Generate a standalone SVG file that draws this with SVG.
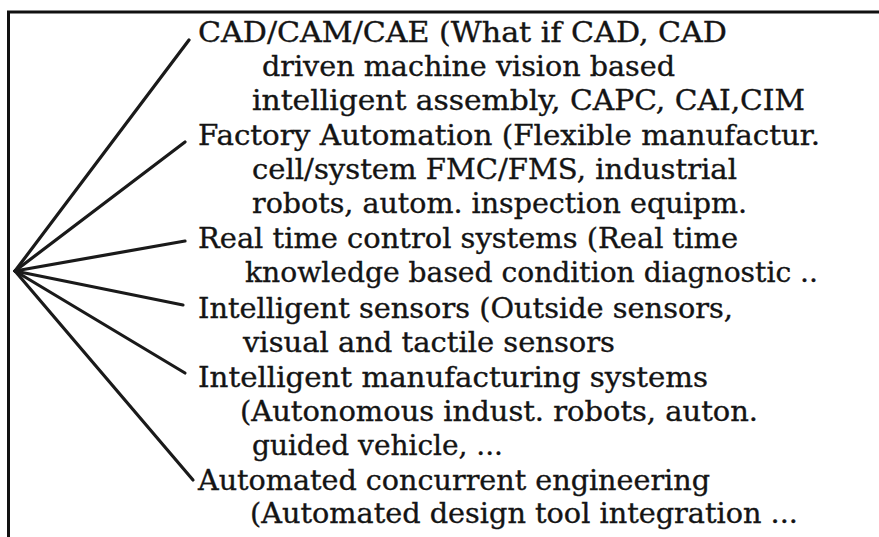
<svg xmlns="http://www.w3.org/2000/svg" width="879" height="537" viewBox="0 0 879 537">
  <style>
    .frame { stroke: #111; stroke-width: 3; fill: none; }
    .branch { stroke: #1a1a1a; stroke-width: 3.2; stroke-linecap: round; fill: none; }
    .label { font-family: "DejaVu Serif", "Liberation Serif", serif; font-size: 28px; fill: #141414; stroke: #141414; stroke-width: 0.35; }
  </style>
  <rect width="879" height="537" fill="#ffffff"/>

  <!-- open frame: top edge and left edge -->
  <g id="frame">
    <line class="frame" x1="7" y1="12" x2="879" y2="12"/>
    <line class="frame" x1="8.5" y1="11" x2="8.5" y2="537"/>
  </g>

  <!-- fan of branches from the common root -->
  <g id="connectors">
    <line class="branch" x1="15" y1="271" x2="189" y2="40"/>
    <line class="branch" x1="15" y1="271" x2="185" y2="142"/>
    <line class="branch" x1="15" y1="271" x2="185" y2="241"/>
    <line class="branch" x1="15" y1="271" x2="183" y2="305"/>
    <line class="branch" x1="15" y1="271" x2="185" y2="373"/>
    <line class="branch" x1="15" y1="271" x2="193" y2="480"/>
  </g>

  <g id="cad-cam-cae">
    <text class="label" x="198" y="42" textLength="529" lengthAdjust="spacingAndGlyphs">CAD/CAM/CAE (What if CAD, CAD</text>
    <text class="label" x="262" y="76" textLength="413" lengthAdjust="spacingAndGlyphs">driven machine vision based</text>
    <text class="label" x="252" y="110" textLength="553" lengthAdjust="spacingAndGlyphs">intelligent assembly, CAPC, CAI,CIM</text>
  </g>

  <g id="factory-automation">
    <text class="label" x="198" y="145" textLength="622" lengthAdjust="spacingAndGlyphs">Factory Automation (Flexible manufactur.</text>
    <text class="label" x="252" y="179" textLength="485" lengthAdjust="spacingAndGlyphs">cell/system FMC/FMS, industrial</text>
    <text class="label" x="252" y="213" textLength="495" lengthAdjust="spacingAndGlyphs">robots, autom. inspection equipm.</text>
  </g>

  <g id="real-time-control">
    <text class="label" x="198" y="248" textLength="540" lengthAdjust="spacingAndGlyphs">Real time control systems (Real time</text>
    <text class="label" x="245" y="282" textLength="573" lengthAdjust="spacingAndGlyphs">knowledge based condition diagnostic ..</text>
  </g>

  <g id="intelligent-sensors">
    <text class="label" x="198" y="318" textLength="535" lengthAdjust="spacingAndGlyphs">Intelligent sensors (Outside sensors,</text>
    <text class="label" x="243" y="352" textLength="372" lengthAdjust="spacingAndGlyphs">visual and tactile sensors</text>
  </g>

  <g id="intelligent-manufacturing">
    <text class="label" x="198" y="387" textLength="510" lengthAdjust="spacingAndGlyphs">Intelligent manufacturing systems</text>
    <text class="label" x="240" y="421" textLength="518" lengthAdjust="spacingAndGlyphs">(Autonomous indust. robots, auton.</text>
    <text class="label" x="252" y="455" textLength="251" lengthAdjust="spacingAndGlyphs">guided vehicle, ...</text>
  </g>

  <g id="concurrent-engineering">
    <text class="label" x="198" y="490" textLength="512" lengthAdjust="spacingAndGlyphs">Automated concurrent engineering</text>
    <text class="label" x="250" y="523" textLength="548" lengthAdjust="spacingAndGlyphs">(Automated design tool integration ...</text>
  </g>
</svg>
